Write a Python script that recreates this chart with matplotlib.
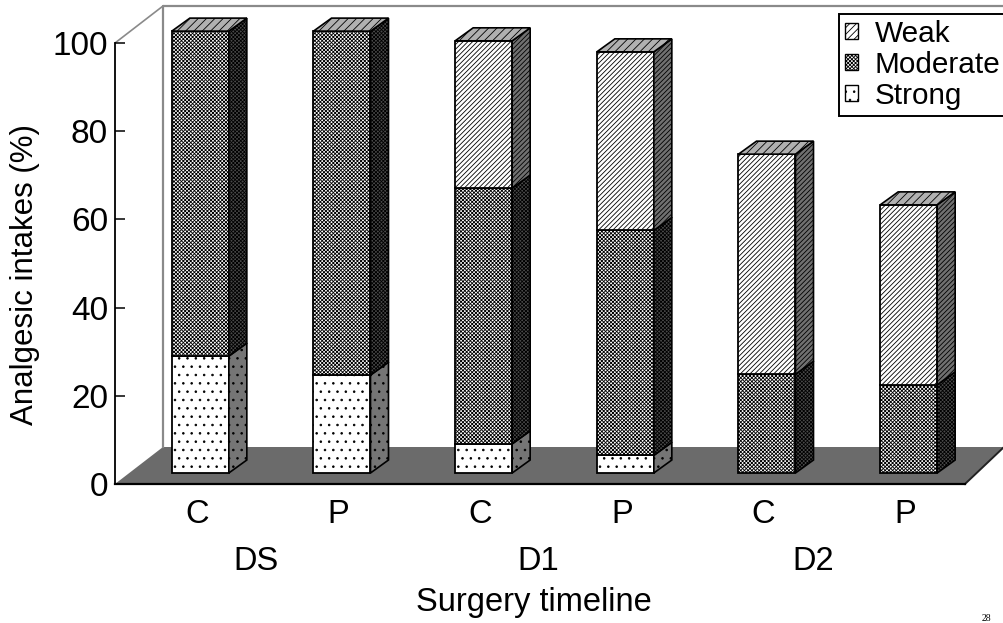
import matplotlib
matplotlib.use('Agg')
import matplotlib.pyplot as plt
from matplotlib.patches import Patch, Polygon

# values
labels = ['C', 'P', 'C', 'P', 'C', 'P']
groups = ['DS', 'D1', 'D2']
strong = [26.5, 22.2, 6.6, 4.0, 0, 0]
moderate = [73.7, 78.0, 58.0, 51.0, 22.4, 20.0]
weak = [0, 0, 33.4, 40.5, 49.9, 40.8]

W, H = 1004, 623
plt.rcParams['font.family'] = ['Liberation Sans', 'DejaVu Sans']
plt.rcParams['hatch.linewidth'] = 0.6

fig = plt.figure(figsize=(W / 100, H / 100), dpi=100)
# axes box in pixels: x 115-965, y 484 (0) up to 43 (100)
ax = fig.add_axes([115 / W, 1 - 484 / H, 850 / W, 441 / H])
ax.set_xlim(-0.5, 5.5)
ax.set_ylim(0, 100)

# pixel -> data steps
px = 6 / 850
py = 100 / 441


def polygon(pts, **kw):
    p = Polygon(pts, closed=True, clip_on=False, **kw)
    ax.add_patch(p)


# floor and back wall
wall_dx, wall_dy = 48 * px, 37 * py
polygon([(-0.5, 0), (-0.5 + wall_dx, wall_dy), (-0.5 + 889 * px, wall_dy), (5.5, 0)],
        facecolor='#6b6b6b', edgecolor='none', zorder=1)
ax.plot([-0.5 + wall_dx, -0.5 + wall_dx, -0.5 + 889 * px],
        [wall_dy, 100 + wall_dy, 100 + wall_dy], color='#8a8a8a', lw=1.6, clip_on=False, zorder=1)
ax.plot([-0.5, -0.5 + wall_dx], [100, 100 + wall_dy], color='#8a8a8a', lw=1.2, clip_on=False, zorder=1)
ax.plot([5.5, -0.5 + 889 * px], [0, wall_dy], color='#222222', lw=1.4, clip_on=False, zorder=1)

# bars: front faces sit a little inside the floor
bar_w = 57 * px
shift = 14.5 * px
lift = 11 * py
dx, dy = 18 * px, 13 * py

layers = [
    (strong, 'white', '#757575', '..'),
    (moderate, 'white', '#4a4a4a', 'xxxxxxxxx'),
    (weak, 'white', '#707070', '///////'),
]

for i in range(len(labels)):
    x0 = i + shift - bar_w / 2
    x1 = x0 + bar_w
    base = lift
    for vals, face, side, hatch in layers:
        v = vals[i]
        if v <= 0:
            continue
        ax.bar(x0, v, bottom=base, width=bar_w, align='edge', facecolor=face, hatch=hatch,
               edgecolor='black', linewidth=1.3, zorder=3, clip_on=False)
        polygon([(x1, base), (x1 + dx, base + dy), (x1 + dx, base + v + dy), (x1, base + v)],
                facecolor=side, edgecolor='black', hatch=hatch, linewidth=1.2, zorder=3)
        base += v
    # top of the column
    polygon([(x0, base), (x0 + dx, base + dy), (x1 + dx, base + dy), (x1, base)],
            facecolor='#b0b0b0', edgecolor='black', hatch='////', linewidth=1.2, zorder=3)

# axes
for s in ['top', 'right']:
    ax.spines[s].set_visible(False)
ax.spines['left'].set_linewidth(1.3)
ax.spines['bottom'].set_linewidth(1.6)
ax.spines['bottom'].set_zorder(2)
ax.set_yticks([0, 20, 40, 60, 80, 100])
ax.tick_params(axis='y', direction='in', length=7, width=1.1, labelsize=24, pad=5)
ax.set_xticks([i + 11 * px for i in range(len(labels))])
ax.set_xticklabels(labels)
ax.tick_params(axis='x', length=0, labelsize=23.5, pad=11)
ax.patch.set_alpha(0)

# group labels and axis titles
for g, xp in zip(groups, [256, 538, 813]):
    fig.text(xp / W, 1 - 561 / H, g, fontsize=23.5, ha='center', va='center')
fig.text(534 / W, 1 - 602 / H, 'Surgery timeline', fontsize=23.5, ha='center', va='center')
fig.text(25 / W, 1 - 274 / H, 'Analgesic intakes (%)', fontsize=22.5, rotation=90, ha='center', va='center')
fig.text(982 / W, 1 - 623 / H, '28', fontsize=7, family='Liberation Serif', ha='left', va='bottom')

# legend
handles = [
    Patch(facecolor='white', edgecolor='black', hatch='/////', label='Weak'),
    Patch(facecolor='white', edgecolor='black', hatch='xxxxxxxxx', label='Moderate'),
    Patch(facecolor='white', edgecolor='black', hatch='..', label='Strong'),
]
leg = fig.legend(handles=handles, loc='upper left', bbox_to_anchor=(839 / W, 1 - 14 / H),
                 fontsize=21.4, frameon=True, fancybox=False, framealpha=1, edgecolor='black',
                 borderpad=0.2, borderaxespad=0, labelspacing=0.1, handlelength=0.45,
                 handleheight=0.45, handletextpad=0.55)
leg.get_frame().set_linewidth(1.4)

fig.savefig('out.png', dpi=100)
